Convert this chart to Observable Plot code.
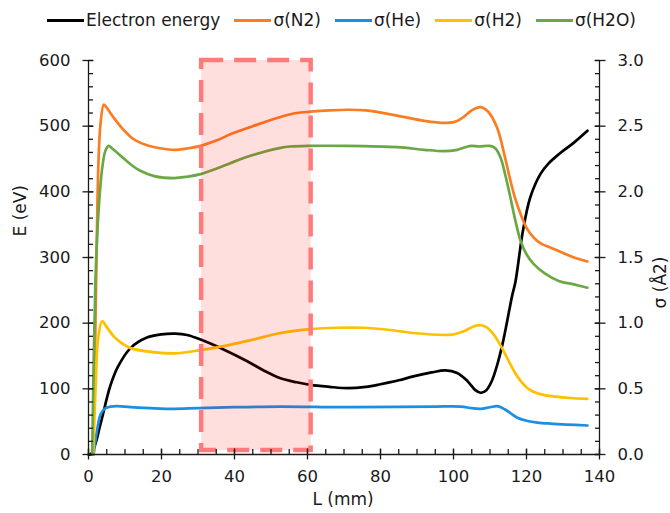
<!DOCTYPE html>
<html>
<head>
<meta charset="utf-8">
<script src="https://cdn.jsdelivr.net/npm/d3@7"></script>
<script src="https://cdn.jsdelivr.net/npm/@observablehq/plot@0.6"></script>
<style>
  html, body { margin: 0; padding: 0; background: #fff; }
  #legend { height: 40px; display: flex; align-items: center; padding-left: 47px;
            font-family: "DejaVu Sans", sans-serif; font-size: 17px; color: #1a1a1a; }
  #legend .item { display: flex; align-items: center; margin-right: 14px; }
  #legend .swatch { width: 37px; height: 3px; margin-right: 2px; }
</style>
</head>
<body>
<div id="legend"></div>
<div id="chart"></div>
<script>
// ---------- data ----------
const seriesNames = ["Electron energy", "σ(N2)", "σ(He)", "σ(H2)", "σ(H2O)"];
const seriesColors = ["#000000", "#fb7d22", "#1a8fe3", "#ffc000", "#6aa843"];

// Electron energy E (eV) vs L (mm)
const energyL = [0, 0.5, 1, 2, 3, 4, 5, 6, 8, 11.5, 16, 20, 23.8, 27, 30.7, 37, 43.5, 48, 52.6, 57, 60.8, 66, 71, 76, 80, 85, 89, 94, 97.8, 101, 103.8, 106, 107.4, 109, 110.5, 112, 113.5, 114.7, 116, 117, 119, 121, 123.8, 126, 129, 133, 136.7];
const energyE = [0, 0, 3, 18, 40, 62, 85, 105, 133, 162, 178, 183, 184, 182, 175, 160, 142, 128, 116, 110, 106, 103, 101, 103, 107, 113, 119, 125, 128, 124, 112, 98, 94, 98, 112, 137, 170, 203, 240, 264, 340, 391, 427, 443, 458, 475, 493];

// Cross sections σ (Å2) vs L (mm)
const n2L = [1.2, 1.8, 2.2, 2.7, 3.3, 4.2, 5, 6, 6.9, 8, 9, 10, 11.5, 13, 16, 20, 23.4, 27, 30.7, 35, 39, 45, 52.6, 57, 60.8, 66, 71, 76, 84.6, 92, 98.3, 101, 103, 105, 107.4, 109.5, 112, 114, 115.6, 117, 118.4, 120, 122, 124, 126.6, 130, 133, 136.7];
const n2S = [0, 0.8, 1.5, 2.2, 2.52, 2.665, 2.64, 2.6, 2.565, 2.525, 2.49, 2.46, 2.42, 2.39, 2.355, 2.33, 2.32, 2.33, 2.35, 2.39, 2.44, 2.5, 2.57, 2.6, 2.61, 2.62, 2.625, 2.62, 2.58, 2.54, 2.525, 2.54, 2.575, 2.62, 2.645, 2.61, 2.485, 2.275, 2.085, 1.94, 1.83, 1.725, 1.65, 1.605, 1.575, 1.535, 1.5, 1.47];

const heL = [1.4, 2.3, 3.3, 4.5, 6, 8, 11.5, 17, 23.4, 30, 40, 52.6, 70, 85, 95, 102, 105, 107.4, 110, 112, 114, 115.6, 117.5, 120.3, 123, 126.6, 131, 136.7];
const heS = [0, 0.175, 0.305, 0.35, 0.365, 0.368, 0.36, 0.353, 0.348, 0.353, 0.36, 0.365, 0.36, 0.363, 0.365, 0.365, 0.353, 0.348, 0.36, 0.368, 0.345, 0.315, 0.28, 0.255, 0.243, 0.235, 0.228, 0.221];

const h2L = [1.3, 2, 2.7, 3.75, 5, 6.9, 9, 11.5, 16, 23.4, 30.7, 37, 45, 52.6, 60.8, 68, 75.3, 82, 89, 97.3, 100, 103, 105.5, 107.4, 109, 111, 113, 114.7, 116.5, 118.4, 120.5, 123.8, 128, 132, 136.7];
const h2S = [0, 0.55, 0.9, 1.015, 0.97, 0.9, 0.85, 0.81, 0.785, 0.77, 0.795, 0.825, 0.875, 0.925, 0.955, 0.965, 0.965, 0.95, 0.925, 0.91, 0.915, 0.94, 0.975, 0.985, 0.97, 0.915, 0.825, 0.735, 0.64, 0.56, 0.5, 0.46, 0.44, 0.43, 0.424];

const h2oL = [1, 1.9, 2.7, 3.75, 4.6, 5.5, 6.5, 8.8, 11.5, 14.2, 18, 23.4, 27, 30.7, 35, 39, 45, 52.6, 55.3, 60, 70, 84.6, 92, 97.3, 101, 104.7, 107, 110, 111.5, 112.9, 114.3, 115.6, 117, 118.4, 120, 122, 125, 129, 133, 136.7];
const h2oS = [0, 1.32, 1.83, 2.18, 2.31, 2.35, 2.33, 2.275, 2.21, 2.16, 2.12, 2.105, 2.115, 2.135, 2.175, 2.22, 2.28, 2.335, 2.345, 2.35, 2.35, 2.34, 2.32, 2.31, 2.32, 2.35, 2.345, 2.35, 2.33, 2.26, 2.115, 1.955, 1.775, 1.625, 1.525, 1.45, 1.38, 1.32, 1.295, 1.27];

// highlighted region (L from 31 to 61 mm, E from 6 to 600 eV)
const regionL = [31, 61];
const regionE = [6, 600];

// axis ticks
const xMajor = [0, 20, 40, 60, 80, 100, 120, 140];
const xMinor = d3.range(0, 141, 5);
const eMajor = [0, 100, 200, 300, 400, 500, 600];
const eMinor = d3.range(0, 601, 20);
const sigmaMajor = [0, 0.5, 1.0, 1.5, 2.0, 2.5, 3.0];
const sigmaMinor = d3.range(0, 31, 1).map(d => d / 10);
const sigmaDomain = [0, 3];
const eDomain = [0, 600];
const E_PER_SIGMA = eDomain[1] / sigmaDomain[1];

// ---------- build ----------
const zip = (xs, ys) => xs.map((x, i) => ({L: x, v: ys[i]}));
const sigmaSeries = [[n2L, n2S], [heL, heS], [h2L, h2S], [h2oL, h2oS]];

const legend = document.getElementById("legend");
seriesNames.forEach((name, i) => {
  const item = document.createElement("div");
  item.className = "item";
  const sw = document.createElement("span");
  sw.className = "swatch";
  sw.style.background = seriesColors[i];
  const tx = document.createElement("span");
  tx.textContent = name;
  item.appendChild(sw); item.appendChild(tx);
  legend.appendChild(item);
});

const axisStyle = {stroke: "#1a1a1a", strokeWidth: 1.3, label: null};
const noText = () => "";

const chart = Plot.plot({
  width: 670,
  height: 473,
  marginLeft: 88,
  marginRight: 71,
  marginTop: 20,
  marginBottom: 59,
  x: {domain: [0, 140]},
  y: {domain: eDomain},
  style: {fontFamily: "DejaVu Sans, sans-serif", fontSize: "16.5px", color: "#1a1a1a", background: "#fff", overflow: "visible"},
  marks: [
    Plot.line(zip(energyL, energyE), {x: "L", y: "v", stroke: seriesColors[0], strokeWidth: 2.7, curve: "catmull-rom"}),
    ...sigmaSeries.map(([xs, ys], i) =>
      Plot.line(zip(xs, ys), {x: "L", y: d => d.v * E_PER_SIGMA, stroke: seriesColors[i + 1], strokeWidth: 2.7, curve: "catmull-rom"})
    ),
    Plot.rect([{x1: regionL[0], x2: regionL[1], y1: regionE[0], y2: regionE[1]}],
      {x1: "x1", x2: "x2", y1: "y1", y2: "y2", fill: "#ff0000", fillOpacity: 0.13,
       stroke: "#ff7b7b", strokeWidth: 4.5, strokeDasharray: "22,11"}),
    // axis lines
    Plot.ruleX([0], {stroke: "#1a1a1a", strokeWidth: 1.3}),
    Plot.ruleX([140], {stroke: "#1a1a1a", strokeWidth: 1.3}),
    Plot.ruleY([0], {stroke: "#1a1a1a", strokeWidth: 1.3}),
    // left axis ticks
    Plot.axisY(eMinor, {...axisStyle, anchor: "left", tickSize: 5, dx: 5, tickFormat: noText}),
    Plot.axisY(eMajor, {...axisStyle, anchor: "left", tickSize: 11, dx: 5.5, tickFormat: noText}),
    Plot.axisY(eMajor, {anchor: "left", tickSize: 0, tickPadding: 18, label: null}),
    // right axis ticks (σ)
    Plot.axisY(sigmaMinor.map(s => s * E_PER_SIGMA), {...axisStyle, anchor: "right", tickSize: 5, dx: -5, tickFormat: noText}),
    Plot.axisY(sigmaMajor.map(s => s * E_PER_SIGMA), {...axisStyle, anchor: "right", tickSize: 11, dx: -5.5, tickFormat: noText}),
    Plot.axisY(sigmaMajor.map(s => s * E_PER_SIGMA), {anchor: "right", tickSize: 0, tickPadding: 18, label: null,
      tickFormat: d => (d / E_PER_SIGMA).toFixed(1)}),
    // bottom axis ticks
    Plot.axisX(xMinor, {...axisStyle, anchor: "bottom", tickSize: 5, dy: -5, tickFormat: noText}),
    Plot.axisX(xMajor, {...axisStyle, anchor: "bottom", tickSize: 11, dy: -5.5, tickFormat: noText}),
    Plot.axisX(xMajor, {anchor: "bottom", tickSize: 0, tickPadding: 16, label: null}),
    // axis titles
    Plot.text(["E (eV)"], {frameAnchor: "left", rotate: -90, dx: -68, dy: -21, fontSize: 17, fill: "#1a1a1a"}),
    Plot.text(["σ (Å2)"], {frameAnchor: "right", rotate: -90, dx: 61, dy: -1, fontSize: 17, fill: "#1a1a1a"}),
    Plot.text(["L (mm)"], {frameAnchor: "bottom", dx: -1, dy: 50, fontSize: 17, fill: "#1a1a1a"})
  ]
});
document.getElementById("chart").appendChild(chart);
</script>
</body>
</html>
